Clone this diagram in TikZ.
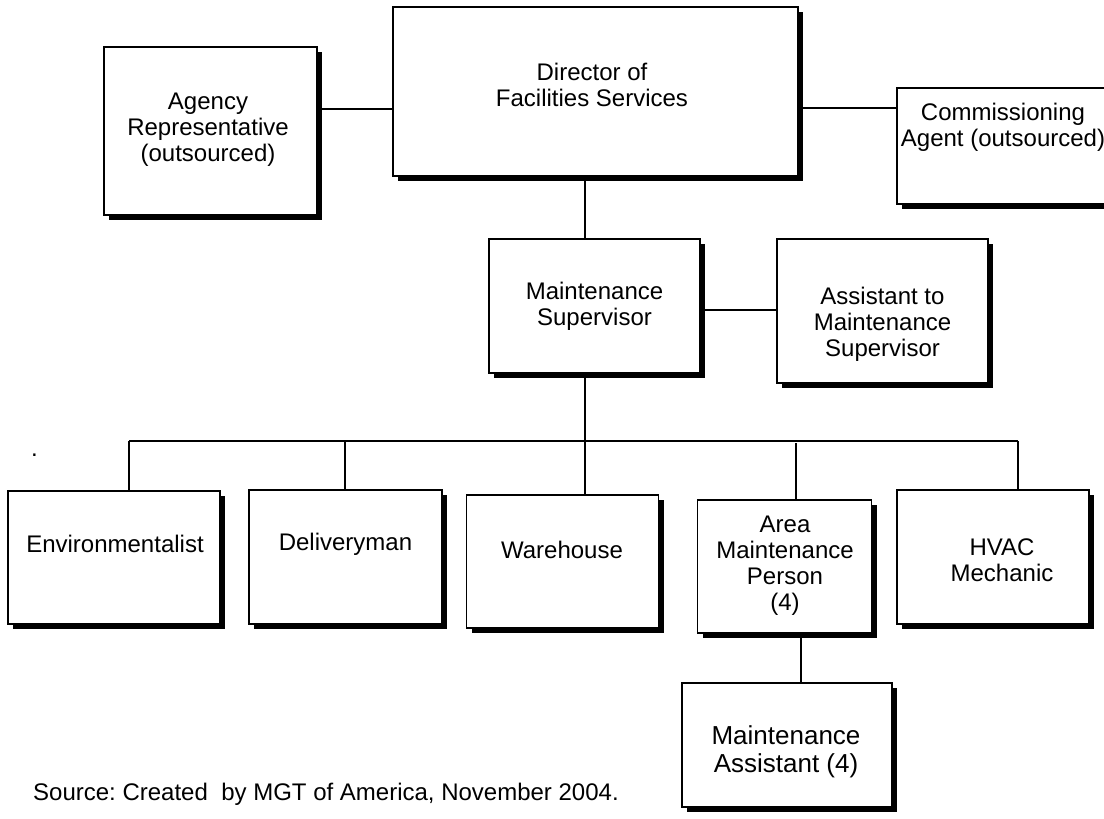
\documentclass[tikz,border=0pt]{standalone}
\usepackage{fontspec}
\setmainfont{Liberation Sans}
\usetikzlibrary{shadows}
\pgfdeclarelayer{background}
\pgfsetlayers{background,main}
\frenchspacing
\begin{document}
\begin{tikzpicture}[x=1pt,y=-1pt,
  box/.style={draw=black, line width=1.3pt, fill=white, inner sep=0pt, rectangle,
     drop shadow={shadow xshift=5pt, shadow yshift=-5pt, opacity=1, fill=black}},
  lbl/.style={align=center, font=\fontsize{24}{26}\selectfont, inner sep=0pt},
  biglbl/.style={lbl, font=\fontsize{26}{28}\selectfont},
  conn/.style={line width=1.5pt, draw=black}]
\clip (0,0) rectangle (1104,819);
\useasboundingbox (0,0) rectangle (1104,819);

% boxes
\node[box, minimum width=213pt, minimum height=168pt] (agency) at (210.5,131) {};
\node[box, minimum width=405pt, minimum height=169pt] (dir) at (595.5,91.5) {};
\node[box, minimum width=223pt, minimum height=116pt] (comm) at (1008.5,146) {};
\node[box, minimum width=211pt, minimum height=134pt] (sup) at (594.5,306) {};
\node[box, minimum width=211pt, minimum height=144pt] (asst) at (882.5,311) {};
\node[box, minimum width=212pt, minimum height=133pt] (env) at (114,557.5) {};
\node[box, minimum width=193pt, minimum height=134pt] (deliv) at (345.5,557) {};
\node[box, minimum width=192pt, minimum height=133pt] (ware) at (562.5,561.5) {};
\node[box, minimum width=174pt, minimum height=133pt] (area) at (784.5,566.5) {};
\node[box, minimum width=192pt, minimum height=134pt] (hvac) at (993,557) {};
\node[box, minimum width=210pt, minimum height=124pt] (masst) at (787,745) {};

% texts
\node[lbl] (agencyT) at (208,130) {Agency\\Representative\\(outsourced)};
\node[lbl] (dirT) at (592,84.5) {Director of\\Facilities Services};
\node[lbl] (commT) at (1003,127.5) {Commissioning\\Agent (outsourced)};
\node[lbl] (supT) at (594.5,306) {Maintenance\\Supervisor};
\node[lbl] (asstT) at (882.5,324) {Assistant to\\Maintenance\\Supervisor};
\node[lbl] (envT) at (115,544) {Environmentalist};
\node[lbl] (delivT) at (345.5,544) {Deliveryman};
\node[lbl] (wareT) at (562,550) {Warehouse};
\node[lbl] (areaT) at (785,565.5) {Area\\Maintenance\\Person\\(4)};
\node[lbl] (hvacT) at (1002,560.5) {HVAC\\Mechanic};
\node[biglbl] (masstT) at (786,752) {Maintenance\\Assistant (4)};
\node[lbl, anchor=base west] (dot) at (31,456) {.};
\node[lbl, anchor=base west] (source) at (33,800) {Source: Created\ \ by MGT of America, November 2004.};

% connectors
\coordinate (yA) at (0,109);
\coordinate (yC) at (0,108);
\coordinate (yS) at (0,310);
\coordinate (spine) at (585,441);
\coordinate (bL) at (129,441);
\coordinate (bD) at (345,441);
\coordinate (bA) at (796,443);
\coordinate (bR) at (1018,441);
\coordinate (xM) at (801,0);
\begin{pgfonlayer}{background}
\draw[conn] (agency.east |- yA) -- (dir.west |- yA);
\draw[conn] (dir.east |- yC) -- (comm.west |- yC);
\draw[conn] (dir.south -| spine) -- (sup.north -| spine);
\draw[conn] (sup.east |- yS) -- (asst.west |- yS);
\draw[conn] (sup.south -| spine) -- (spine);
\draw[conn] (bL) -- (bR);
\draw[conn] (bL) -- (bL |- env.north);
\draw[conn] (bD) -- (bD |- deliv.north);
\draw[conn] (spine) -- (spine |- ware.north);
\draw[conn] (bA) -- (bA |- area.north);
\draw[conn] (bR) -- (bR |- hvac.north);
\draw[conn] (area.south -| xM) -- (masst.north -| xM);
\end{pgfonlayer}
\end{tikzpicture}
\end{document}
